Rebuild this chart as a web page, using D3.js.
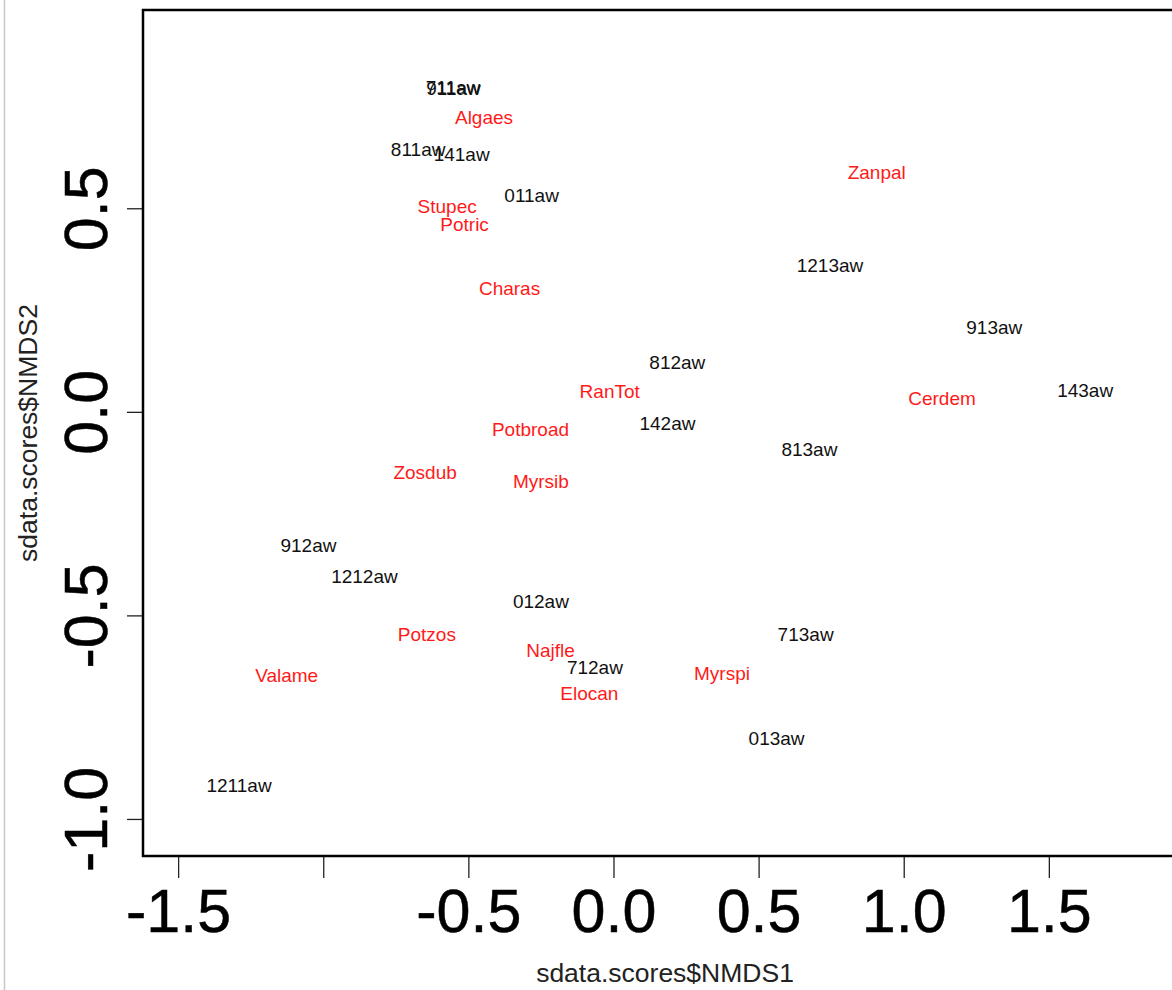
<!DOCTYPE html>
<html>
<head>
<meta charset="utf-8">
<script src="https://cdn.jsdelivr.net/npm/d3@7"></script>
<style>
  body { margin: 0; background: #fff; }
  svg { display: block; font-family: "Liberation Sans", Arial, Helvetica, sans-serif; }
</style>
</head>
<body>
<svg id="chart" width="1172" height="990"></svg>
<script>
// NMDS site scores (black labels)
const siteNames = ["711aw", "911aw", "811aw", "141aw", "011aw", "1213aw", "913aw", "812aw", "143aw",
                   "142aw", "813aw", "912aw", "1212aw", "012aw", "713aw", "712aw", "013aw", "1211aw"];
const siteX = [-0.553, -0.551, -0.673, -0.523, -0.282, 0.746, 1.312, 0.220, 1.625,
               0.186, 0.675, -1.051, -0.858, -0.250, 0.662, -0.064, 0.562, -1.290];
const siteY = [0.794, 0.793, 0.642, 0.630, 0.529, 0.357, 0.204, 0.118, 0.051,
               -0.030, -0.095, -0.331, -0.407, -0.469, -0.550, -0.631, -0.804, -0.919];

// NMDS species scores (red labels)
const speciesNames = ["Algaes", "Zanpal", "Stupec", "Potric", "Charas", "RanTot", "Cerdem", "Potbroad",
                      "Zosdub", "Myrsib", "Potzos", "Najfle", "Valame", "Myrspi", "Elocan"];
const speciesX = [-0.446, 0.907, -0.573, -0.513, -0.358, -0.013, 1.132, -0.286,
                  -0.649, -0.250, -0.643, -0.217, -1.126, 0.374, -0.083];
const speciesY = [0.720, 0.585, 0.503, 0.458, 0.300, 0.048, 0.032, -0.046,
                  -0.151, -0.173, -0.550, -0.587, -0.650, -0.644, -0.695];

// Axis ticks and their printed labels (R drops the -1.0 label where it would overlap)
const xTicks = [-1.5, -1.0, -0.5, 0.0, 0.5, 1.0, 1.5];
const xTickLabels = ["-1.5", "", "-0.5", "0.0", "0.5", "1.0", "1.5"];
const yTicks = [-1.0, -0.5, 0.0, 0.5];
const yTickLabels = ["-1.0", "-0.5", "0.0", "0.5"];

const xTitle = "sdata.scores$NMDS1";
const yTitle = "sdata.scores$NMDS2";

const svg = d3.select("#chart");
const plot = { left: 143, top: 10, right: 1187, bottom: 856 };

const x = d3.scaleLinear().domain([-1.621, 1.976]).range([plot.left, plot.right]);
const y = d3.scaleLinear().domain([-1.091, 0.987]).range([plot.bottom, plot.top]);

svg.append("rect").attr("width", 1172).attr("height", 990).attr("fill", "#fff");

// thin frame line at the left edge of the figure
svg.append("line")
  .attr("x1", 4.5).attr("x2", 4.5).attr("y1", 0).attr("y2", 990)
  .attr("stroke", "#c8c8c8").attr("stroke-width", 1.5);

// bottom axis
const xAxis = svg.append("g")
  .attr("transform", `translate(0,${plot.bottom})`)
  .call(d3.axisBottom(x).tickValues(xTicks).tickFormat((d, i) => xTickLabels[i]).tickSize(22).tickSizeOuter(0));
xAxis.select(".domain").remove();
xAxis.selectAll(".tick line").attr("stroke", "#222").attr("stroke-width", 1.3);
xAxis.selectAll(".tick text")
  .attr("y", 76).attr("dy", 0)
  .attr("fill", "#000")
  .attr("stroke", "#000").attr("stroke-width", 0.5)
  .style("font-size", "61px")
  .style("font-family", "'Liberation Sans', Arial, sans-serif");

// left axis
const yAxis = svg.append("g")
  .attr("transform", `translate(${plot.left},0)`)
  .call(d3.axisLeft(y).tickValues(yTicks).tickFormat((d, i) => yTickLabels[i]).tickSize(16).tickSizeOuter(0));
yAxis.select(".domain").remove();
yAxis.selectAll(".tick line").attr("stroke", "#222").attr("stroke-width", 1.3);
yAxis.selectAll(".tick text")
  .attr("x", 0).attr("dy", 0)
  .attr("text-anchor", "middle")
  .attr("transform", "translate(-36,0) rotate(-90)")
  .attr("fill", "#000")
  .attr("stroke", "#000").attr("stroke-width", 0.5)
  .style("font-size", "61px")
  .style("font-family", "'Liberation Sans', Arial, sans-serif");

// plot box
svg.append("rect")
  .attr("x", plot.left).attr("y", plot.top)
  .attr("width", plot.right - plot.left).attr("height", plot.bottom - plot.top)
  .attr("fill", "none").attr("stroke", "#000").attr("stroke-width", 2.5);

// axis titles
svg.append("text")
  .attr("x", (plot.left + plot.right) / 2).attr("y", 982)
  .attr("text-anchor", "middle")
  .attr("fill", "#222")
  .style("font-size", "26.5px")
  .text(xTitle);

svg.append("text")
  .attr("transform", `translate(37,${(plot.top + plot.bottom) / 2}) rotate(-90)`)
  .attr("text-anchor", "middle")
  .attr("fill", "#222")
  .style("font-size", "26.5px")
  .text(yTitle);

// site labels
const sites = siteNames.map((n, i) => ({ name: n, x: siteX[i], y: siteY[i] }));
svg.append("g").selectAll("text").data(sites).join("text")
  .attr("x", d => x(d.x)).attr("y", d => y(d.y))
  .attr("dy", "0.3em")
  .attr("text-anchor", "middle")
  .attr("fill", "#111")
  .style("font-size", "19px")
  .text(d => d.name);

// species labels
const species = speciesNames.map((n, i) => ({ name: n, x: speciesX[i], y: speciesY[i] }));
svg.append("g").selectAll("text").data(species).join("text")
  .attr("x", d => x(d.x)).attr("y", d => y(d.y))
  .attr("dy", "0.3em")
  .attr("text-anchor", "middle")
  .attr("fill", "#ff1a1a")
  .style("font-size", "19px")
  .text(d => d.name);
</script>
</body>
</html>
